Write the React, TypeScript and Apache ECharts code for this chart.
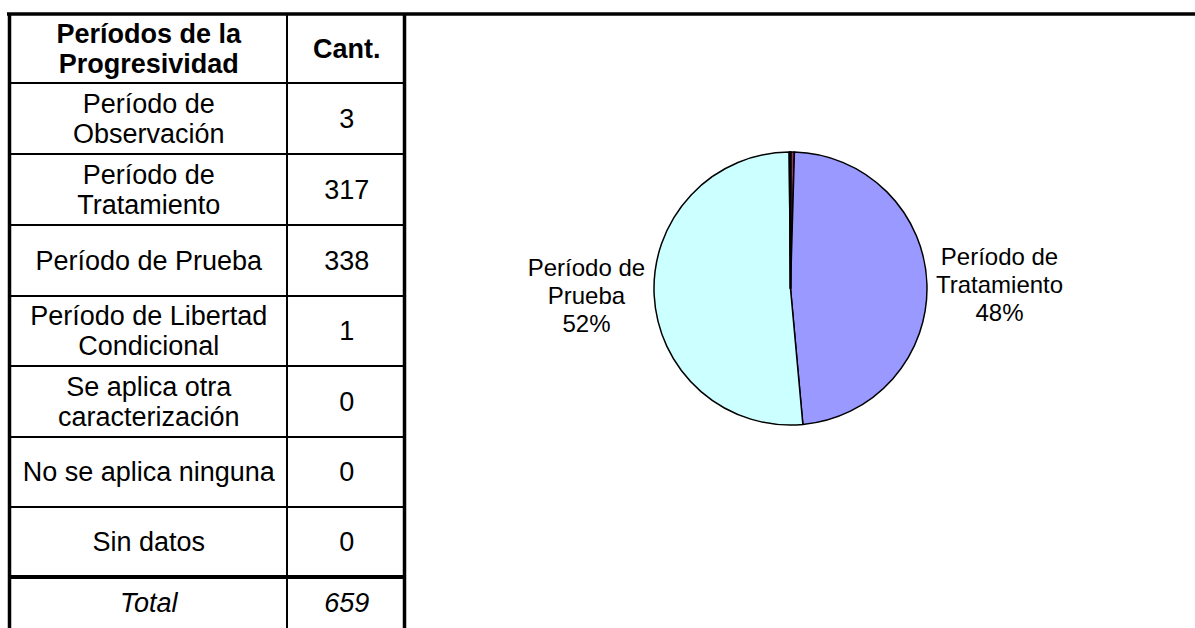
import React, { useEffect, useRef } from "react";
import * as echarts from "echarts";

// ---- data ----
const categories = [
  "Período de Observación",
  "Período de Tratamiento",
  "Período de Prueba",
  "Período de Libertad Condicional",
  "Se aplica otra caracterización",
  "No se aplica ninguna",
  "Sin datos",
];
const tableLabels = [
  "Período de\nObservación",
  "Período de\nTratamiento",
  "Período de Prueba",
  "Período de Libertad\nCondicional",
  "Se aplica otra\ncaracterización",
  "No se aplica ninguna",
  "Sin datos",
];
const counts = [3, 317, 338, 1, 0, 0, 0];
const pieLabelNames = ["", "Período de\nTratamiento", "Período de\nPrueba", "", "", "", ""];
const pieLabelPercents = ["", "48%", "52%", "", "", "", ""];
const sliceColors = ["#993366", "#9999FF", "#CCFFFF", "#0B3D2E", "#660066", "#FF8080", "#0066CC"];
const headerCol1 = "Períodos de la\nProgresividad";
const headerCol2 = "Cant.";
const totalLabel = "Total";

const FONT = '"Liberation Sans", Arial, sans-serif';

export default function App() {
  const ref = useRef<HTMLDivElement>(null);
  useEffect(() => {
    document.body.style.margin = "0";
    const chart = echarts.init(ref.current!, null, { renderer: "svg" });
    const total = counts.reduce((a, b) => a + b, 0);

    // table geometry
    const xL = 9.5, xSep = 287, xR = 404.5;
    const yTop = 14;
    const rowLines = [83, 154, 225, 296, 366, 437, 507];
    const yThick = 577;
    const c1 = (xL + xSep) / 2 + 0.5;
    const c2 = (xSep + xR) / 2 + 1;

    const gfx: any[] = [];
    const line = (x1: number, y1: number, x2: number, y2: number, w: number) =>
      gfx.push({ type: "line", z: 100, shape: { x1, y1, x2, y2 }, style: { stroke: "#000", lineWidth: w } });
    const txt = (text: string, x: number, y: number, bold = false, italic = false) =>
      gfx.push({
        type: "text",
        z: 100,
        style: {
          text,
          x,
          y,
          align: "center",
          verticalAlign: "middle",
          fontSize: 27,
          fontFamily: FONT,
          fontWeight: bold ? "bold" : "normal",
          fontStyle: italic ? "italic" : "normal",
          lineHeight: 30,
          fill: "#000",
        },
      });

    line(7, yTop, 1195, yTop, 3.5);
    line(xL, yTop, xL, 628, 3.5);
    line(xSep, yTop, xSep, 628, 2);
    line(xR, yTop, xR, 628, 3.5);
    rowLines.forEach((y) => line(xL, y, xR, y, 2));
    line(xL, yThick, xR, yThick, 4);

    txt(headerCol1, c1, 49, true);
    txt(headerCol2, c2, 49, true);
    const bounds = [83, ...rowLines.slice(1), yThick];
    tableLabels.forEach((l, i) => {
      const yc = (bounds[i] + bounds[i + 1]) / 2;
      txt(l, c1, yc);
      txt(String(counts[i]), c2, yc);
    });
    txt(totalLabel, c1, 603, false, true);
    txt(String(total), c2, 603, false, true);

    chart.setOption({
      animation: false,
      backgroundColor: "#fff",
      graphic: gfx,
      series: [
        {
          type: "pie",
          center: [790.5, 288.5],
          radius: 136.5,
          startAngle: 90,
          clockwise: true,
          avoidLabelOverlap: false,
          itemStyle: { borderColor: "#000", borderWidth: 1.5 },
          labelLine: { show: false, length: 0, length2: 4 },
          label: {
            show: true,
            position: "outside",
            distanceToLabelLine: 5,
            formatter: (p: any) => {
              const name = pieLabelNames[p.dataIndex];
              const lines = [...name.split("\n"), pieLabelPercents[p.dataIndex]];
              return lines.map((s) => "{c|" + s + "}").join("\n");
            },
            rich: {
              c: { align: "center", fontSize: 24, fontFamily: FONT, color: "#000", lineHeight: 28 },
            },
          },
          emphasis: { disabled: true },
          data: categories.map((name, i) => ({
            name,
            value: counts[i],
            itemStyle: { color: sliceColors[i] },
            label: { show: pieLabelNames[i] !== "" },
          })),
        },
      ],
    });
    return () => chart.dispose();
  }, []);
  return <div ref={ref} style={{ position: "absolute", left: 0, top: 0, width: 1195, height: 628 }} />;
}
